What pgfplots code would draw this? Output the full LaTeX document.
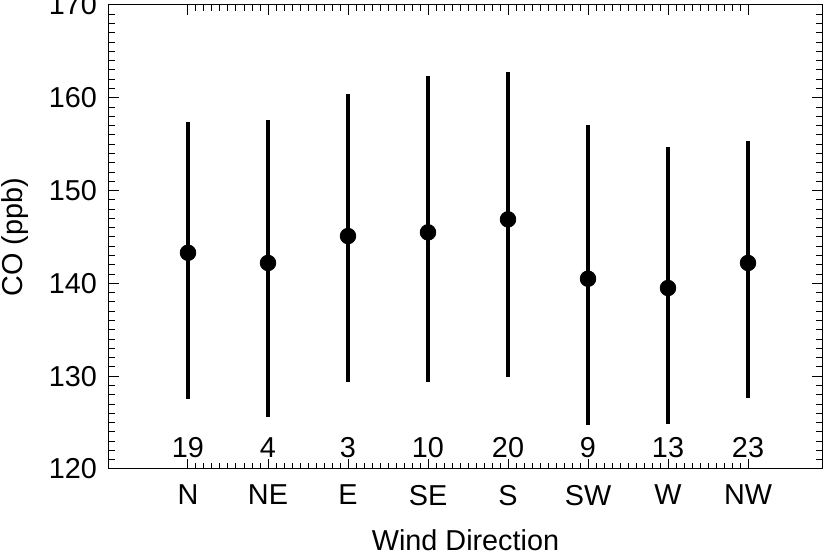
\documentclass[border=0pt]{standalone}
\usepackage{pgfplots}
\usepackage{pgfplotstable}
\usepackage{fontspec}
\setmainfont{Liberation Sans}
\pgfplotsset{compat=1.18}

% x  y  plus  minus  n
\pgfplotstableread{
x y ep em n
1 143.3 14.1 15.8 19
2 142.2 15.4 16.6 4
3 145.1 15.3 15.7 3
4 145.5 16.9 16.1 10
5 146.9 15.9 17.0 20
6 140.5 16.6 15.8 9
7 139.5 15.2 14.6 13
8 142.2 13.1 14.5 23
}\codata

\begin{document}
\fontsize{14.4}{17}\selectfont
\begin{tikzpicture}
\begin{axis}[
    scale only axis,
    width=356.5pt, height=232pt,
    xmin=0.0125, xmax=8.925,
    ymin=120, ymax=170,
    xtick={1,...,8},
    xticklabels={N,NE,E,SE,S,SW,W,NW},
    ytick={120,130,...,170},
    minor x tick num=9,
    minor y tick num=9,
    tick align=inside,
    major tick length=5pt,
    minor tick length=3pt,
    every tick/.style={black, line width=0.5pt},
    axis line style={line width=0.5pt},
    xticklabel style={yshift=-3pt},
    yticklabel style={xshift=-1pt},
    /pgf/number format/assume math mode=true,
    xlabel={Wind Direction},
    ylabel={CO (ppb)},
    every axis x label/.style={at={(axis description cs:0.5,-0.153)}, anchor=center},
    every axis y label/.style={at={(axis description cs:-0.132,0.5)}, anchor=center, rotate=90},
]
\addplot[only marks, mark=*, mark size=3.9pt, black,
    error bars/.cd, y dir=both, y explicit,
    error bar style={line width=2pt}, error mark=none]
    table[x=x, y=y, y error plus=ep, y error minus=em] {\codata};

\addplot[only marks, mark=none,
    nodes near coords, point meta=explicit symbolic,
    nodes near coords style={anchor=base, inner sep=0pt}]
    table[x=x, y expr=121.2, meta=n] {\codata};
\end{axis}
\pgfresetboundingbox
\path[use as bounding box] ([shift={(-54.5pt,-42pt)}]current axis.south west)
    rectangle ([shift={(3pt,2.5pt)}]current axis.north east);
\end{tikzpicture}
\end{document}
